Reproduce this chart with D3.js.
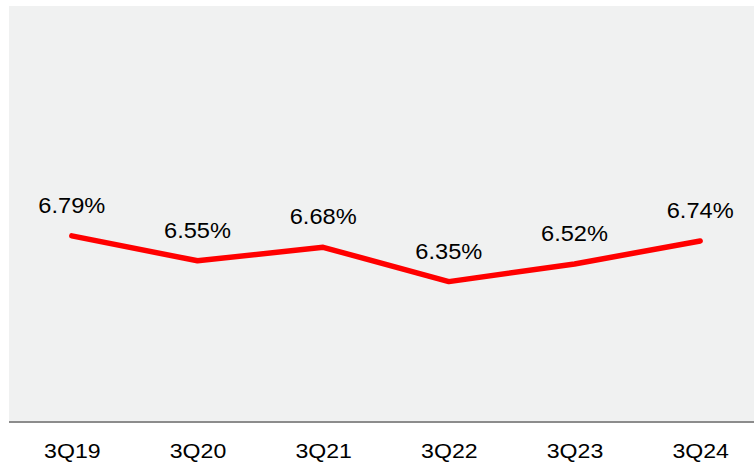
<!DOCTYPE html>
<html>
<head>
<meta charset="utf-8">
<script src="https://cdn.jsdelivr.net/npm/d3@7"></script>
<style>
  html, body { margin: 0; padding: 0; background: #ffffff; }
  svg { display: block; }
  text { font-family: "Liberation Sans", Arial, sans-serif; fill: #000; }
</style>
</head>
<body>
<svg id="chart" width="754" height="462"></svg>
<script>
// Quarterly rate series
const quarters = ["3Q19", "3Q20", "3Q21", "3Q22", "3Q23", "3Q24"];
const rates = [6.79, 6.55, 6.68, 6.35, 6.52, 6.74];
const yDomain = [5, 9];

const W = 754, H = 462;
const plot = { left: 9, right: 763, top: 6, bottom: 422 };

const svg = d3.select("#chart");

const x = d3.scalePoint()
  .domain(quarters)
  .range([plot.left, plot.right])
  .padding(0.5);

const y = d3.scaleLinear()
  .domain(yDomain)
  .range([plot.bottom, plot.top]);

// plot area background
svg.append("rect")
  .attr("x", plot.left)
  .attr("y", plot.top)
  .attr("width", W - plot.left)
  .attr("height", plot.bottom - plot.top)
  .attr("fill", "#f0f1f1");

// category axis
const axis = svg.append("g")
  .attr("transform", `translate(0,${plot.bottom})`)
  .call(d3.axisBottom(x).tickSize(0).tickPadding(0));
axis.select(".domain").remove();
axis.append("line")
  .attr("x1", plot.left).attr("x2", W)
  .attr("y1", 0).attr("y2", 0)
  .attr("stroke", "#8c8c8c")
  .attr("stroke-width", 2);
axis.selectAll(".tick text")
  .attr("y", 0)
  .attr("dy", 0)
  .attr("font-size", 21)
  .attr("fill", "#000")
  .attr("transform", "translate(0,36) scale(1.1,1)")
  .style("font-family", "'Liberation Sans', Arial, sans-serif");

// rate line
const line = d3.line()
  .x((d, i) => x(quarters[i]))
  .y(d => y(d));

svg.append("path")
  .datum(rates)
  .attr("d", line)
  .attr("fill", "none")
  .attr("stroke", "#ff0000")
  .attr("stroke-width", 5.5)
  .attr("stroke-linecap", "round")
  .attr("stroke-linejoin", "round");

// value labels
svg.append("g")
  .selectAll("text")
  .data(rates)
  .join("text")
  .attr("transform", (d, i) => `translate(${x(quarters[i])},${y(d) - 23}) scale(1.05,1)`)
  .attr("text-anchor", "middle")
  .attr("font-size", 22.5)
  .text(d => d.toFixed(2) + "%");
</script>
</body>
</html>
